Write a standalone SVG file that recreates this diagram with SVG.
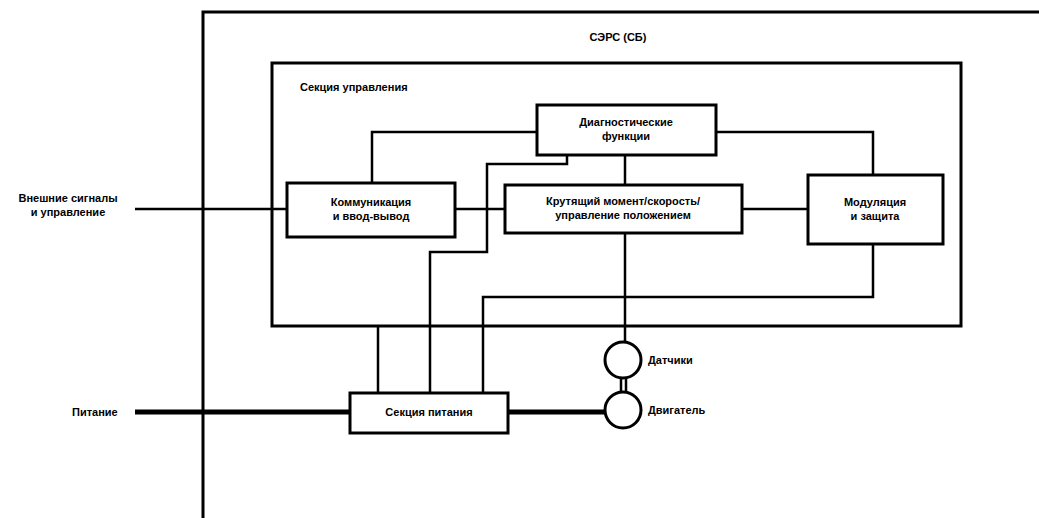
<svg xmlns="http://www.w3.org/2000/svg" width="1039" height="518" viewBox="0 0 1039 518">
<style>
.box{fill:#fff;stroke:#000;stroke-width:3}
.frame{fill:none;stroke:#000;stroke-width:3}
.ln{fill:none;stroke:#000;stroke-width:2.5}
.thick{fill:none;stroke:#000;stroke-width:5}
text{font-family:"Liberation Sans",Arial,sans-serif;font-size:11px;font-weight:bold;fill:#000}
.c{text-anchor:middle}
</style>
<rect width="1039" height="518" fill="#fff"/>
<g id="outer">
<path class="frame" d="M1041,12 H203 V520"/>
<text class="c" x="618" y="41">СЭРС (СБ)</text>
</g>
<g id="control-section">
<rect class="frame" x="272" y="63" width="689" height="263"/>
<text x="300" y="91">Секция управления</text>
</g>
<g id="connectors">
<path class="ln" d="M372,183 V132 H537"/>
<path class="ln" d="M716,132 H873 V175"/>
<path class="ln" d="M135,209 H287"/>
<path class="ln" d="M455,209 H505"/>
<path class="ln" d="M742,209 H808"/>
<path class="ln" d="M625,155 V185"/>
<path class="ln" d="M625,233 V342"/>
<path class="ln" d="M567,155 V164 H487 V252 H430 V393"/>
<path class="ln" d="M873,243 V297 H483 V393"/>
<path class="ln" d="M378,326 V393"/>
<path class="ln" d="M621,378 V392 M626,378 V392"/>
<path class="thick" d="M135,412 H350"/>
<path class="thick" d="M508,412 H605"/>
</g>
<g id="diag">
<rect class="box" x="537" y="105" width="179" height="50"/>
<text class="c" x="626" y="126">Диагностические</text>
<text class="c" x="626" y="140">функции</text>
</g>
<g id="comm">
<rect class="box" x="287" y="183" width="168" height="54"/>
<text class="c" x="371" y="206">Коммуникация</text>
<text class="c" x="371" y="220">и ввод-вывод</text>
</g>
<g id="torque">
<rect class="box" x="505" y="185" width="237" height="48"/>
<text class="c" x="623" y="205">Крутящий момент/скорость/</text>
<text class="c" x="623" y="219">управление положением</text>
</g>
<g id="modulation">
<rect class="box" x="808" y="175" width="135" height="69"/>
<text class="c" x="875" y="206">Модуляция</text>
<text class="c" x="875" y="220">и защита</text>
</g>
<g id="ext">
<text class="c" x="68" y="202">Внешние сигналы</text>
<text class="c" x="68" y="216">и управление</text>
</g>
<g id="power-in">
<text x="72" y="416">Питание</text>
</g>
<g id="power-section">
<rect class="box" x="350" y="393" width="158" height="40"/>
<text class="c" x="429" y="416">Секция питания</text>
</g>
<g id="sensors">
<circle class="box" cx="623" cy="360" r="18"/>
<text x="648" y="364">Датчики</text>
</g>
<g id="motor">
<circle class="box" cx="623" cy="410" r="18"/>
<text x="648" y="414">Двигатель</text>
</g>
</svg>
